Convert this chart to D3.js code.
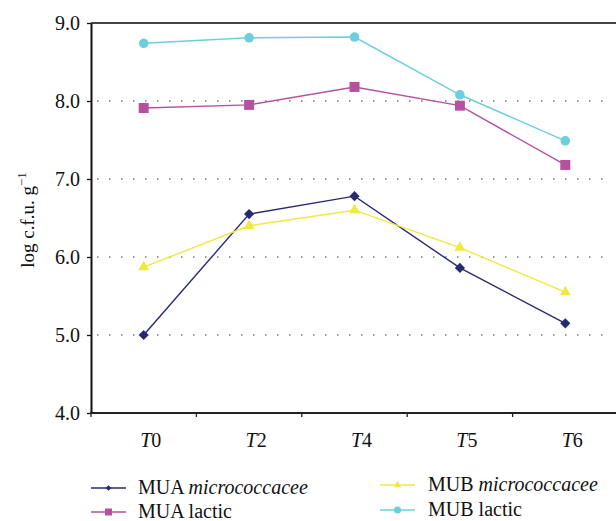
<!DOCTYPE html>
<meta charset="utf-8">
<style>
  body { margin: 0; background: #fff; }
  text { font-family: "Liberation Serif", "DejaVu Serif", serif; fill: #111; }
  .grid line { stroke: #333; stroke-width: 1.2; stroke-dasharray: 1.5 10.5; }
</style>
<svg width="616" height="521"></svg>
<script src="https://cdn.jsdelivr.net/npm/d3@7"></script>
<script>
var times = ["0", "2", "4", "5", "6"];
var yTicks = [4, 5, 6, 7, 8, 9];

var muaMicro = [5.00, 6.55, 6.78, 5.86, 5.15];
var muaLactic = [7.91, 7.95, 8.18, 7.94, 7.18];
var mubMicro = [5.87, 6.40, 6.60, 6.12, 5.55];
var mubLactic = [8.74, 8.81, 8.82, 8.08, 7.49];

var diamond = {
  draw: function(ctx, size) {
    var r = Math.sqrt(size / 2);
    ctx.moveTo(0, -r); ctx.lineTo(r, 0); ctx.lineTo(0, r); ctx.lineTo(-r, 0); ctx.closePath();
  }
};

var series = [
  { name: "MUA", it: "micrococcacee", values: muaMicro, color: "#272a73", shape: diamond, size: 52, lsize: 16 },
  { name: "MUA", it: "", rest: " lactic", values: muaLactic, color: "#b5519f", shape: d3.symbolSquare, size: 100, lsize: 49 },
  { name: "MUB", it: "micrococcacee", values: mubMicro, color: "#efea3f", shape: d3.symbolTriangle, size: 52, lsize: 24 },
  { name: "MUB", it: "", rest: " lactic", values: mubLactic, color: "#6ccfdc", shape: d3.symbolCircle, size: 72, lsize: 40 }
];

var svg = d3.select("svg");
var mLeft = 91, mRight = 618, mTop = 23, mBottom = 413;

var x = d3.scaleBand().domain(times).range([mLeft, mRight]);
var y = d3.scaleLinear().domain([4, 9]).range([mBottom, mTop]);
function cx(t) { return x(t) + x.bandwidth() / 2; }

// dotted gridlines
svg.append("g").attr("class", "grid")
  .selectAll("line").data([5, 6, 7, 8]).enter().append("line")
  .attr("x1", mLeft + 6).attr("x2", 612)
  .attr("y1", function(d) { return y(d); }).attr("y2", function(d) { return y(d); });

// top border
svg.append("line").attr("x1", mLeft).attr("x2", 616).attr("y1", mTop).attr("y2", mTop)
  .attr("stroke", "#444").attr("stroke-width", 2);

// y axis
var ya = svg.append("g").attr("transform", "translate(" + mLeft + ",0)")
  .call(d3.axisLeft(y).tickValues(yTicks).tickFormat(d3.format(".1f")).tickSize(4).tickSizeOuter(0));
ya.select(".domain").attr("stroke", "#111").attr("stroke-width", 2);
ya.selectAll(".tick line").attr("stroke", "#111").attr("stroke-width", 1.3);
ya.selectAll(".tick text").attr("font-size", 20).attr("x", -11)
  .attr("font-family", "Liberation Serif, DejaVu Serif, serif").attr("fill", "#111");

// x axis
svg.append("line").attr("x1", mLeft - 1).attr("x2", 616).attr("y1", mBottom).attr("y2", mBottom)
  .attr("stroke", "#222").attr("stroke-width", 2);
svg.append("g").selectAll("line").data(times).enter().append("line")
  .attr("x1", function(d) { return x(d); })
  .attr("x2", function(d) { return x(d); })
  .attr("y1", mBottom).attr("y2", mBottom + 4)
  .attr("stroke", "#222").attr("stroke-width", 1.3);

var xl = svg.append("g").selectAll("text").data(times).enter().append("text")
  .attr("x", function(d) { return cx(d) + 7; })
  .attr("y", mBottom + 34)
  .attr("text-anchor", "middle").attr("font-size", 20);
xl.append("tspan").attr("font-style", "italic").text("T");
xl.append("tspan").text(function(d) { return d; });

// y label
var yl = svg.append("text").attr("transform", "translate(34," + 220 + ") rotate(-90)")
  .attr("text-anchor", "middle").attr("font-size", 19);
yl.append("tspan").text("log c.f.u. g");
yl.append("tspan").attr("font-size", 13).attr("dy", -8).text("\u22121");

// series
var line = d3.line()
  .x(function(d, i) { return cx(times[i]); })
  .y(function(d) { return y(d); });

series.forEach(function(s) {
  svg.append("path").datum(s.values).attr("d", line)
    .attr("fill", "none").attr("stroke", s.color).attr("stroke-width", 1.4);
  svg.append("g").selectAll("path").data(s.values).enter().append("path")
    .attr("d", d3.symbol().type(s.shape).size(s.size))
    .attr("transform", function(d, i) {
      return "translate(" + cx(times[i]) + "," + y(d) + ")";
    })
    .attr("fill", s.color);
});

// legend
var legPos = [[91, 488], [91, 512], [380, 485], [380, 510]];
series.forEach(function(s, i) {
  var g = svg.append("g").attr("transform", "translate(" + legPos[i][0] + "," + legPos[i][1] + ")");
  g.append("line").attr("x1", 0).attr("x2", 35).attr("stroke", s.color).attr("stroke-width", 1.4);
  g.append("path").attr("d", d3.symbol().type(s.shape).size(s.lsize))
    .attr("transform", "translate(17.5,0)").attr("fill", s.color);
  var t = g.append("text").attr("x", i < 2 ? 47 : 48).attr("y", 6).attr("font-size", 20);
  t.append("tspan").text(s.name);
  if (s.it) { t.append("tspan").text(" "); t.append("tspan").attr("font-style", "italic").text(s.it); }
  else t.append("tspan").text(s.rest);
});
</script>
